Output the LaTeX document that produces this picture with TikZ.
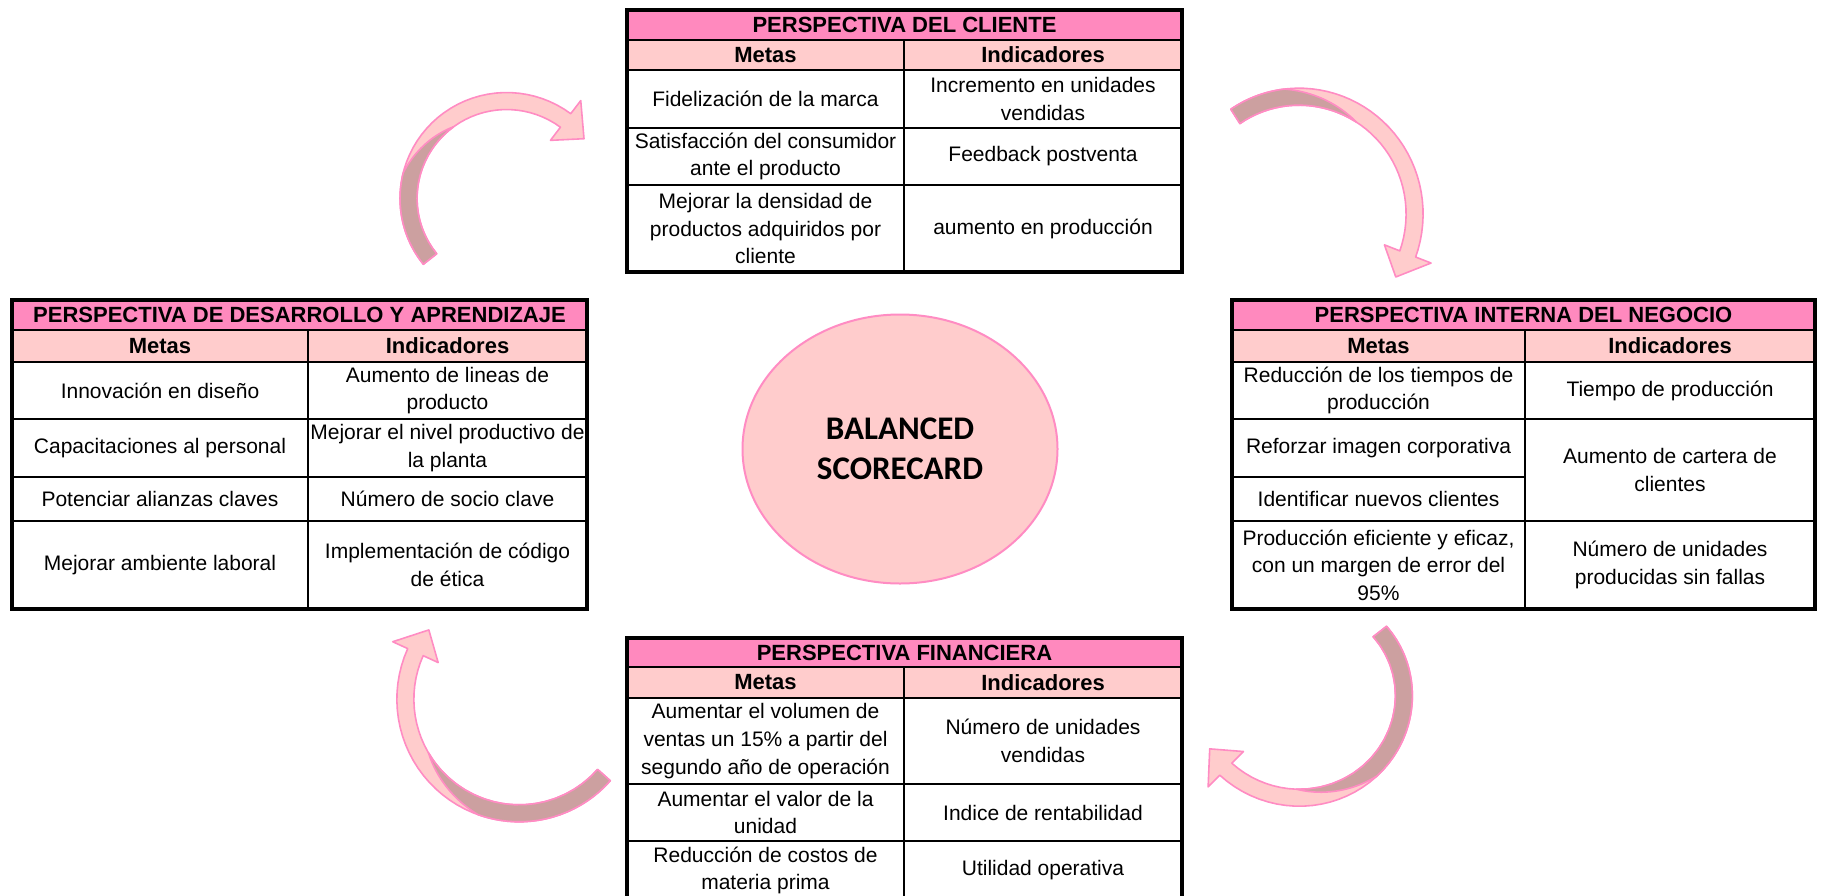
\documentclass[tikz,border=0pt]{standalone}
\usepackage{fontspec}
\setmainfont{Liberation Sans}
\newfontfamily\carlito{Carlito}
\usetikzlibrary{shapes.geometric}
\definecolor{rosafuerte}{RGB}{255,137,190}
\definecolor{rosaclaro}{RGB}{255,204,204}
\definecolor{rosaborde}{RGB}{255,140,195}
\definecolor{rosaoscuro}{RGB}{204,160,160}

\tikzset{
	celda/.style={draw, line width=1.1pt, inner sep=0pt, outer sep=0pt, align=center, anchor=north west, font=\fontsize{10.5}{13.8}\selectfont},
	titulo/.style={celda, fill=rosafuerte, font=\bfseries\fontsize{11}{13}\selectfont},
	cabeza/.style={celda, fill=rosaclaro, font=\bfseries\fontsize{11}{13}\selectfont},
	marco/.style={draw, line width=1.7pt},
	cinta/.style={draw=rosaborde, line width=0.8pt, line join=round},
}

% cell from (x1,y1) to (x2,y2), in pixels
\newcommand{\celda}[7][celda]{%
	\node[#1, minimum width={(#5-#3)*0.5pt}, minimum height={(#6-#4)*0.5pt}] (#2) at (#3,#4) {#7};}

% curved arrow: centre x, y; tail and head angle; tail and head radius; twist from, to
\newcommand{\flecha}[8]{%
	\begin{scope}[declare function={rr(\t)=#5+(#6-#5)*(\t-(#3))/((#4)-(#3));}]
	\pgfmathsetmacro{\punta}{#4+26/#6*57.3}
	\filldraw[cinta, fill=rosaclaro]
		plot[domain=#3:#4, samples=40] ({#1+(rr(\x)+8.5)*cos(\x)}, {#2+(rr(\x)+8.5)*sin(\x)})
		-- ({#1+(#6+25)*cos(#4)}, {#2+(#6+25)*sin(#4)})
		-- ({#1+#6*cos(\punta)}, {#2+#6*sin(\punta)})
		-- ({#1+(#6-25)*cos(#4)}, {#2+(#6-25)*sin(#4)})
		-- plot[domain=#4:#3, samples=40] ({#1+(rr(\x)-8.5)*cos(\x)}, {#2+(rr(\x)-8.5)*sin(\x)})
		-- cycle;
	\filldraw[cinta, fill=rosaoscuro]
		plot[domain=#3:#7, samples=20] ({#1+(rr(\x)+8.5)*cos(\x)}, {#2+(rr(\x)+8.5)*sin(\x)})
		-- plot[domain=#7:#8, samples=20] ({#1+(rr(\x)+8.5-17*(\x-#7)/(#8-#7))*cos(\x)}, {#2+(rr(\x)+8.5-17*(\x-#7)/(#8-#7))*sin(\x)})
		-- plot[domain=#8:#3, samples=20] ({#1+(rr(\x)-8.5)*cos(\x)}, {#2+(rr(\x)-8.5)*sin(\x)})
		-- cycle;
	\end{scope}}

\begin{document}
\begin{tikzpicture}[x=0.5pt,y=-0.5pt]
	\useasboundingbox (0,0) rectangle (1821,895);

	% perspectiva del cliente
	\celda[titulo]{clT}{627}{10}{1182}{40}{PERSPECTIVA DEL CLIENTE}
	\celda[cabeza]{clM}{627}{40}{904}{70}{Metas}
	\celda[cabeza]{clI}{904}{40}{1182}{70}{Indicadores}
	\celda{cl1m}{627}{70}{904}{128}{Fidelización de la marca}
	\celda{cl1i}{904}{70}{1182}{128}{Incremento en unidades\\vendidas}
	\celda{cl2m}{627}{128}{904}{185}{Satisfacción del consumidor\\ante el producto}
	\celda{cl2i}{904}{128}{1182}{185}{Feedback postventa}
	\celda{cl3m}{627}{185}{904}{272}{Mejorar la densidad de\\productos adquiridos por\\cliente}
	\celda{cl3i}{904}{185}{1182}{272}{aumento en producción}
	\draw[marco] (clT.north west) rectangle (cl3i.south east);

	% perspectiva de desarrollo y aprendizaje
	\celda[titulo]{deT}{12}{300}{587}{330}{PERSPECTIVA DE DESARROLLO Y APRENDIZAJE}
	\celda[cabeza]{deM}{12}{330}{308}{362}{Metas}
	\celda[cabeza]{deI}{308}{330}{587}{362}{Indicadores}
	\celda{de1m}{12}{362}{308}{419}{Innovación en diseño}
	\celda{de1i}{308}{362}{587}{419}{Aumento de lineas de\\producto}
	\celda{de2m}{12}{419}{308}{477}{Capacitaciones al personal}
	\celda{de2i}{308}{419}{587}{477}{Mejorar el nivel productivo de\\la planta}
	\celda{de3m}{12}{477}{308}{521}{Potenciar alianzas claves}
	\celda{de3i}{308}{477}{587}{521}{Número de socio clave}
	\celda{de4m}{12}{521}{308}{609}{Mejorar ambiente laboral}
	\celda{de4i}{308}{521}{587}{609}{Implementación de código\\de ética}
	\draw[marco] (deT.north west) rectangle (de4i.south east);

	% perspectiva interna del negocio
	\celda[titulo]{inT}{1232}{300}{1815}{330}{PERSPECTIVA INTERNA DEL NEGOCIO}
	\celda[cabeza]{inM}{1232}{330}{1525}{362}{Metas}
	\celda[cabeza]{inI}{1525}{330}{1815}{362}{Indicadores}
	\celda{in1m}{1232}{362}{1525}{419}{Reducción de los tiempos de\\producción}
	\celda{in1i}{1525}{362}{1815}{419}{Tiempo de producción}
	\celda{in2m}{1232}{419}{1525}{477}{Reforzar imagen corporativa}
	\celda{in2i}{1525}{419}{1815}{521}{Aumento de cartera de\\clientes}
	\celda{in3m}{1232}{477}{1525}{521}{Identificar nuevos clientes}
	\celda{in4m}{1232}{521}{1525}{609}{Producción eficiente y eficaz,\\con un margen de error del\\95\%}
	\celda{in4i}{1525}{521}{1815}{609}{Número de unidades\\producidas sin fallas}
	\draw[marco] (inT.north west) rectangle (in4i.south east);

	% perspectiva financiera
	\celda[titulo]{fiT}{627}{638}{1182}{667}{PERSPECTIVA FINANCIERA}
	\celda[cabeza]{fiM}{627}{667}{904}{698}{Metas}
	\celda[cabeza]{fiI}{904}{667}{1182}{698}{Indicadores}
	\celda{fi1m}{627}{698}{904}{784}{Aumentar el volumen de\\ventas un 15\% a partir del\\segundo año de operación}
	\celda{fi1i}{904}{698}{1182}{784}{Número de unidades\\vendidas}
	\celda{fi2m}{627}{784}{904}{841}{Aumentar el valor de la\\unidad}
	\celda{fi2i}{904}{784}{1182}{841}{Indice de rentabilidad}
	\celda{fi3m}{627}{841}{904}{900}{Reducción de costos de\\materia prima}
	\celda{fi3i}{904}{841}{1182}{900}{Utilidad operativa}
	\draw[marco] (fiT.north west) rectangle (fi3i.south east);

	\node[ellipse, draw=rosaborde, fill=rosaclaro, line width=1pt, minimum width=157.5pt, minimum height=134.5pt, inner sep=0pt, align=center, font=\carlito\bfseries\fontsize{16.5}{20}\selectfont] (bsc) at (900,449) {BALANCED\\SCORECARD};

	\flecha{505}{200}{141.8}{307.3}{95.4}{100}{195}{235}
	\flecha{1295}{210}{237.5}{381.3}{111}{121}{265}{305}
	\flecha{1305}{690}{-38}{135}{95}{112}{50}{95}
	\flecha{520}{700}{41.8}{204.6}{112.6}{115}{110}{150}
\end{tikzpicture}
\end{document}
